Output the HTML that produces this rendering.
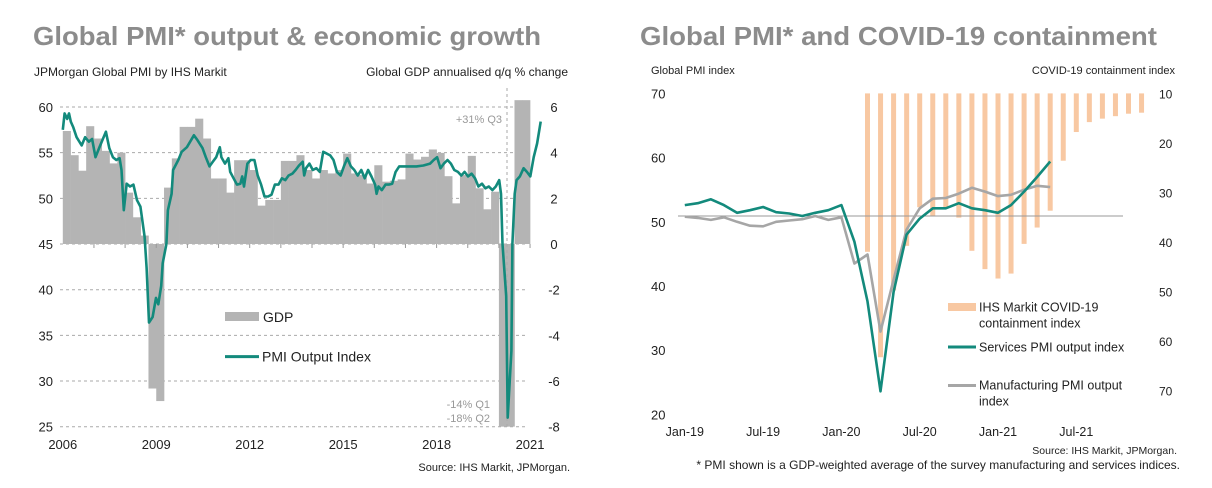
<!DOCTYPE html>
<html><head><meta charset="utf-8"><style>
html,body{margin:0;padding:0;background:#fff;}
svg{display:block;font-family:"Liberation Sans",Arial,sans-serif;}
</style></head><body>
<svg id="c" width="1212" height="488" viewBox="0 0 1212 488" xmlns="http://www.w3.org/2000/svg">
<text x="33" y="45" font-size="26" font-weight="bold" fill="#8c8c8c" textLength="508" lengthAdjust="spacingAndGlyphs">Global PMI* output &amp; economic growth</text>
<text x="640" y="45" font-size="26" font-weight="bold" fill="#8c8c8c" textLength="517" lengthAdjust="spacingAndGlyphs">Global PMI* and COVID-19 containment</text>
<text x="34" y="76" font-size="12" fill="#222">JPMorgan Global PMI by IHS Markit</text>
<text x="568" y="76" font-size="12" fill="#222" text-anchor="end">Global GDP annualised q/q % change</text>
<text x="651" y="74" font-size="11" fill="#222">Global PMI index</text>
<text x="1175" y="74" font-size="11" fill="#222" text-anchor="end">COVID-19 containment index</text>
<g id="L"></g><g id="R"></g>
<text x="570" y="471" font-size="11" fill="#222" text-anchor="end">Source: IHS Markit, JPMorgan.</text>
<text x="1177" y="454" font-size="10.5" fill="#222" text-anchor="end">Source: IHS Markit, JPMorgan.</text>
<text x="1180" y="469" font-size="12" fill="#222" text-anchor="end">* PMI shown is a GDP-weighted average of the survey manufacturing and services indices.</text>
</svg>
<script>
// ---- Left chart data ----
const gdpQ = [4.95,3.89,3.21,5.16,4.62,4.08,3.53,4.0,2.25,1.17,0.37,-6.33,-6.88,2.47,3.75,5.13,5.13,5.49,4.62,2.87,2.87,2.25,3.67,3.67,3.24,1.68,1.93,1.93,3.64,3.64,3.89,3.24,2.87,3.24,3.09,3.24,3.96,3.09,3.02,2.65,3.45,2.73,2.77,2.83,3.96,3.70,3.82,4.14,3.99,2.97,1.78,3.02,3.86,2.44,1.52,2.29,-14,-18,31,8];
const pmiMonth = [0,0.7,1.7,2.4,3.1,4,5.3,7.3,8.6,10,11.3,12.6,14,15.3,16.6,17.9,19.3,20.6,21.9,22.6,23.5,24.6,25.9,27.2,28.6,29.9,31.5,32.3,33.2,34.6,35.9,36.8,37.9,38.5,39.9,40.5,41.9,42.5,44.5,45.8,47.8,50.5,51.8,53.8,55.1,56.5,57.8,59.1,60.5,61.1,62.5,63.8,64.5,65.8,67.1,68.4,69.1,69.8,71.1,72.4,73.8,75.1,76.4,77.7,79.1,80.4,81.7,83.1,84.4,85.7,87,88.4,89.7,91,92.4,93,93.7,95,96.3,97.7,99,100.3,101.7,103,104.3,105.6,107,108.3,109.6,111,112.3,113.6,115,116.3,117.6,118.9,120.3,120.9,121.6,122.9,124.3,125.6,126.9,128.2,129.6,130.9,133.6,136.2,138.9,141.5,142.9,144.2,145.5,146.8,148.2,149.5,150.8,152.2,153.5,154.8,156.1,157.5,158.8,160.1,161.5,162.8,164.1,165.5,166.8,168.1,168.8,169.4,170.8,171.4,172.8,173.2,174.1,174.8,176.1,177.5,178.8,180.1,181.4,182.7,184.1];
const pmiVal = [57.5,59.3,58.7,59.3,58.4,57.8,56.7,55.8,56.7,56.2,56.5,54.5,55.5,56.4,57.3,55.5,54.5,54.2,54.4,53.1,48.7,51.6,51.3,51.5,49.8,49.1,45.8,42.4,36.4,37,39.1,38.4,40.4,42.9,45,48.7,50.5,53.1,54.2,55.1,55.6,56.9,56.4,55.5,54.5,53.5,54,54.5,55.6,54.5,53.8,54.4,52.9,52.2,51.5,51.6,52.4,51.3,53.8,54.2,54.2,52.5,51.5,50.2,50.2,50.4,51.5,51.5,52.2,52,52.5,52.7,53.1,53.6,54,52.5,53.3,53.8,53.1,53.3,52.9,55.1,54.9,54.7,54.2,52.9,52.5,53.5,54.4,53.5,53.1,52.5,53.1,52.2,53.1,52.4,51.5,50.5,51.3,50.9,51.5,51.5,51.6,52.9,53.5,53.5,53.5,53.5,53.6,53.8,54.2,54.5,53.3,53.8,54.2,53.8,53.1,52.9,52.5,52.9,52.4,52.7,52.2,51.3,51.6,51.1,51.3,50.9,51.3,52,50.5,45,39.3,26,33.3,45,50.5,52,52.4,53.3,52.9,52.4,54.5,56,58.4];
const leftYTicks = [25,30,35,40,45,50,55,60];
const rightYTicks = [-8,-6,-4,-2,0,2,4,6];
const yearLabels = ["2006","2009","2012","2015","2018","2021"];
const yearVals = [2006,2009,2012,2015,2018,2021];
// ---- Right chart data ----
const contMonths = [14,15,16,17,18,19,20,21,22,23,24,25,26,27,28,29,30,31,32,33,34,35];
const contVals = [42,63.3,49.8,40.8,33,34.7,33,35.1,41.8,45.5,47.4,46.4,40.4,37.1,33.7,23.6,17.8,15.8,15.1,14.6,14.1,13.9];
const servVals = [52.6,52.9,53.5,52.6,51.4,51.8,52.3,51.5,51.3,50.9,51.4,51.8,52.6,46.9,37.6,23.6,39.1,48,50.5,52.1,52.1,52.9,52.1,51.8,51.4,52.6,54.7,57,59.4];
const mfgVals = [50.8,50.6,50.3,50.7,50,49.4,49.3,50,50.2,50.4,50.9,50.3,50.7,43.5,44.9,32.9,41,48.8,52.1,53.6,53.7,54.4,55.3,54.7,54,54.2,55,55.6,55.4];
const pmiTicksR = [20,30,40,50,60,70];
const contTicks = [10,20,30,40,50,60,70];
const monthLabels = ["Jan-19","Jul-19","Jan-20","Jul-20","Jan-21","Jul-21"];
const monthLabelIdx = [0,6,12,18,24,30];
const refLine = 50.9;

const NS="http://www.w3.org/2000/svg";
function mk(parent,tag,attrs,text){const e=document.createElementNS(NS,tag);for(const k in attrs)e.setAttribute(k,attrs[k]);if(text!==undefined)e.textContent=text;parent.appendChild(e);return e;}
const L=document.getElementById('L'), R=document.getElementById('R');

// Left axes
const lx0=62.8, lxR=527, yearW=31.15;
const xYear=t=>lx0+(t-2006)*yearW;
const xMonth=m=>lx0+m*yearW/12;
const yP=v=>426.7-(v-25)*9.134;
const yG=v=>244-v*22.83;
for(const v of leftYTicks){
  const g=mk(L,'line',{x1:60,x2:lxR,y1:yP(v),y2:yP(v),stroke:'#aaa','stroke-dasharray':'3,3','stroke-width':1});
  
  
  const t=mk(L,'text',{x:53,y:yP(v)+5,'font-size':13,'text-anchor':'end',fill:'#222'},String(v));
  
  
}
for(const v of rightYTicks){
  const t=mk(L,'text',{x:554,y:yG(v)+5,'font-size':13,'text-anchor':'middle',fill:'#222'},String(v));
  
  
}
yearVals.forEach((y,i)=>{
  const t=mk(L,'text',{x:xYear(y),y:449,'font-size':13,'text-anchor':'middle',fill:'#222'},yearLabels[i]);
  
  
});
const qW=yearW/4;
gdpQ.forEach((v,i)=>{
  const vc=Math.max(-8,Math.min(6.3,v));
  const y1=yG(Math.max(0,vc)), y2=yG(Math.min(0,vc));
  const b=mk(L,'rect',{x:lx0+i*qW,y:y1,width:qW+0.3,height:y2-y1,fill:'#b4b4b4'});
  
  
});
for(let y=2007;y<=2021;y++){mk(L,'line',{x1:xYear(y),x2:xYear(y),y1:244,y2:248,stroke:'#999','stroke-width':1});}
const vl=mk(L,'line',{x1:507,x2:507,y1:88,y2:426.7,stroke:'#aaa','stroke-dasharray':'3,3'});


const pd=pmiMonth.map((m,i)=>(i?'L':'M')+xMonth(m).toFixed(1)+','+yP(pmiVal[i]).toFixed(1)).join(' ');
const pl=mk(L,'path',{d:pd,fill:'none',stroke:'#138a7c','stroke-width':2.6,'stroke-linejoin':'round'});


const a1=mk(L,'text',{x:502,y:123,'font-size':11,fill:'#999','text-anchor':'end'},'+31% Q3');


const a2=mk(L,'text',{x:490,y:408,'font-size':11,fill:'#999','text-anchor':'end'},'-14% Q1');


const a3=mk(L,'text',{x:490,y:422,'font-size':11,fill:'#999','text-anchor':'end'},'-18% Q2');


const lg1=mk(L,'rect',{x:225,y:312,width:34,height:9,fill:'#b4b4b4'});


const lt1=mk(L,'text',{x:263,y:322,'font-size':14,fill:'#222'},'GDP');


const lg2=mk(L,'line',{x1:225,x2:259,y1:356.6,y2:356.6,stroke:'#138a7c','stroke-width':3});


const lt2=mk(L,'text',{x:262,y:361.5,'font-size':14,fill:'#222'},'PMI Output Index');



// Right axes
const rx0=684.8, mW=13.05;
const xM=m=>rx0+m*mW;
const yR=v=>93.4+(70-v)*6.42;
const yC=v=>93.4+(v-10)*4.95;
for(const v of pmiTicksR){
  const t=mk(R,'text',{x:651,y:yR(v)+5,'font-size':13,fill:'#222'},String(v));
  
  
}
for(const v of contTicks){
  const t=mk(R,'text',{x:1159,y:yC(v)+5,'font-size':12,fill:'#222'},String(v));
  
  
}
monthLabelIdx.forEach((m,i)=>{
  const t=mk(R,'text',{x:xM(m),y:436,'font-size':12.5,'text-anchor':'middle',fill:'#222'},monthLabels[i]);
  
  
});
contMonths.forEach((m,i)=>{
  const b=mk(R,'rect',{x:xM(m)-2.5,y:yC(10),width:5,height:yC(contVals[i])-yC(10),fill:'#f8c8a2'});
  
  
});
const rl=mk(R,'line',{x1:678,x2:1123,y1:yR(refLine),y2:yR(refLine),stroke:'#999','stroke-width':1});


const md=mfgVals.map((v,i)=>(i?'L':'M')+xM(i).toFixed(1)+','+yR(v).toFixed(1)).join(' ');
const ml=mk(R,'path',{d:md,fill:'none',stroke:'#a6a6a6','stroke-width':2.6,'stroke-linejoin':'round'});


const sd=servVals.map((v,i)=>(i?'L':'M')+xM(i).toFixed(1)+','+yR(v).toFixed(1)).join(' ');
const sl=mk(R,'path',{d:sd,fill:'none',stroke:'#138a7c','stroke-width':2.6,'stroke-linejoin':'round'});


const rg1=mk(R,'rect',{x:948,y:303,width:28,height:8,fill:'#f8c8a2'});


const rt1=mk(R,'text',{x:979,y:311.5,'font-size':12.5,fill:'#222'},'IHS Markit COVID-19');


mk(R,'text',{x:979,y:327.5,'font-size':12.5,fill:'#222'},'containment index');
const rg2=mk(R,'line',{x1:948,x2:976,y1:347,y2:347,stroke:'#138a7c','stroke-width':3});


const rt2=mk(R,'text',{x:979,y:351.5,'font-size':12.5,fill:'#222'},'Services PMI output index');


const rg3=mk(R,'line',{x1:948,x2:976,y1:385.5,y2:385.5,stroke:'#a6a6a6','stroke-width':3});


const rt3=mk(R,'text',{x:979,y:389.5,'font-size':12.5,fill:'#222'},'Manufacturing PMI output');


mk(R,'text',{x:979,y:405.5,'font-size':12.5,fill:'#222'},'index');
</script>
</body></html>
